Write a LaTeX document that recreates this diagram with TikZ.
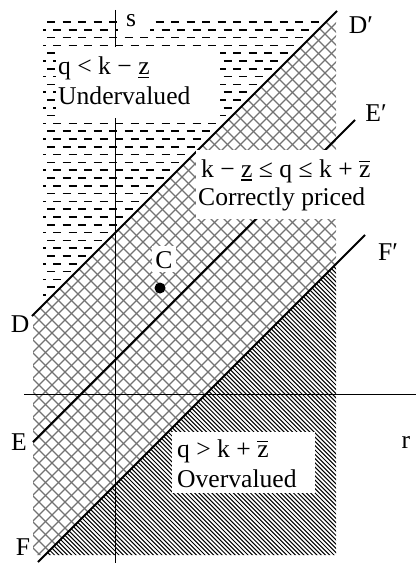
\documentclass[tikz,border=0pt]{standalone}
\usepackage{fontspec}
\setmainfont{Liberation Serif}
\newcommand{\ovz}{\leavevmode\rlap{\rule[15pt]{11pt}{1.2pt}}z}
\newcommand{\unz}{\leavevmode\rlap{\rule[-3.5pt]{11pt}{1.4pt}}z}
\begin{document}
\begin{tikzpicture}[x=1pt,y=-1pt,
  font=\fontsize{25.6}{30}\selectfont,
  axisline/.style={line width=1pt},
  bound/.style={line width=2pt},
  lbl/.style={inner sep=0pt, anchor=base},
  txt/.style={inner sep=0pt, anchor=base west},
  xhatch/.style={black!55, line width=1.2pt},
  dhatch/.style={black, line width=1pt},
  hdash/.style={black, line width=1.6pt, dash pattern=on 8pt off 7.5pt},
  whitebox/.style={fill=white}]
\useasboundingbox (0,0) rectangle (416,564);
% crosshatch (correctly priced)
\begin{scope}
\clip (328,20) -- (336,20) -- (336,264) -- (45,555) -- (33,555) -- (33,315) -- cycle;
\foreach \c in {-330,-317,...,910} {
  \draw[xhatch] (0,\c) -- (600,\c+600);
  \draw[xhatch] (0,\c) -- (600,\c-600);
}
\end{scope}
% diagonal hatch (overvalued)
\begin{scope}
\clip (336,264) -- (336,555) -- (45,555) -- cycle;
\foreach \i in {0,...,140} {
  \pgfmathsetmacro\cc{-80+4.3*\i}
  \draw[dhatch] (0,\cc) -- (600,\cc+600);
}
\end{scope}
% horizontal dashes (undervalued)
\begin{scope}
\clip (43,18) -- (326,18) -- (43,301) -- cycle;
\foreach \i in {0,...,36} {
  \pgfmathsetmacro\yy{22+7.8*\i}
  \pgfmathsetmacro\ph{mod(\i,2)*9.5}
  \draw[hdash, dash phase=\ph pt] (31.5,\yy) -- (340,\yy);
}
\end{scope}
% axes
\coordinate (sTop) at (115,10);
\coordinate (sBot) at (115,563);
\coordinate (rL) at (24,394);
\coordinate (rR) at (416,394);
\draw[axisline] (sTop) -- (sBot);
\draw[axisline] (rL) -- (rR);
% boundary lines
\coordinate (D) at (32,316);
\coordinate (Dp) at (337,11);
\coordinate (E) at (33,442);
\coordinate (Ep) at (355,120);
\coordinate (F) at (38,562);
\coordinate (Fp) at (365,235);
\draw[bound] (D) -- (Dp);
\draw[bound] (E) -- (Ep);
\draw[bound] (F) -- (Fp);
% white boxes
\fill[whitebox] (118,12) rectangle (150,33);
\fill[whitebox] (56,47) rectangle (220,118);
\fill[whitebox] (196,150) rectangle (365,219);
\fill[whitebox] (172,432) rectangle (315,493);
\fill[whitebox] (152,246) rectangle (176,272);
% labels
\node[lbl] (sl) at (131,27) {s};
\node[lbl] (rl) at (406,448) {r};
\node[lbl] (Dl) at (20,332) {D};
\node[lbl] (El) at (19,450) {E};
\node[lbl] (Fl) at (23,555) {F};
\node[lbl] (Dpl) at (361,34) {D′};
\node[lbl] (Epl) at (376,122) {E′};
\node[lbl] (Fpl) at (388,260) {F′};
\node[lbl] (Cl) at (164,268) {C};
\node[circle, fill=black, inner sep=0pt, minimum size=11pt] (Cdot) at (160,288) {};
\node[txt] (uv1) at (58,75) {q < k − \unz};
\node[txt] (uv2) at (58,105) {Undervalued};
\node[txt] (cp1) at (201,177) {k − \unz{} ≤ q ≤ k + \ovz};
\node[txt] (cp2) at (198,205) {Correctly priced};
\node[txt] (ov1) at (177,457) {q > k + \ovz};
\node[txt] (ov2) at (177,487) {Overvalued};
\end{tikzpicture}
\end{document}
